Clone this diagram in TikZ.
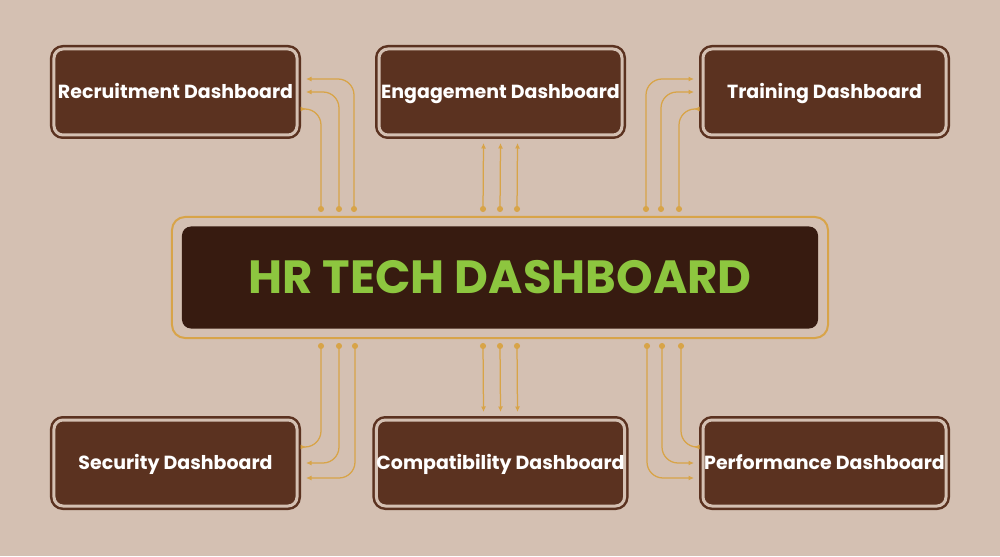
\documentclass[tikz,border=0pt]{standalone}
\usepackage{fontspec}
\setmainfont{Poppins}
\usetikzlibrary{calc,arrows.meta}

\definecolor{bgtan}{HTML}{D4C0B2}
\definecolor{boxbrown}{HTML}{5B3220}
\definecolor{hubdark}{HTML}{371B10}
\definecolor{titlegreen}{HTML}{8DC63F}
\definecolor{wiregold}{HTML}{D8A448}

\begin{document}
\begin{tikzpicture}[x=0.2mm, y=0.2mm, font=\bfseries,
    dashbox/.style={draw=boxbrown, fill=boxbrown, line width=0.5mm,
        double=bgtan, double distance=0.6mm, rounded corners=1.8mm,
        minimum width=48.6mm, minimum height=17.2mm, outer sep=0pt,
        inner xsep=0pt, text height=7.6pt, text depth=0pt,
        text=white, font=\bfseries\fontsize{10.8}{12}\selectfont},
    hubframe/.style={draw=wiregold, line width=0.4mm, rounded corners=2.6mm,
        minimum width=131.2mm, minimum height=24.2mm, outer sep=0pt},
    hubcore/.style={fill=hubdark, rounded corners=1.8mm,
        minimum width=127.2mm, minimum height=20.4mm,
        text height=18.6pt, text depth=0pt,
        text=titlegreen, font=\bfseries\fontsize{26.5}{27}\selectfont},
    wire/.style={draw=wiregold, line width=0.25mm, rounded corners=3.2mm,
        {Circle[length=1.2mm]}-{Latex[length=1.1mm, width=1mm]}}]

    % Background
    \fill[bgtan] (0,0) rectangle (1000,556);
    \useasboundingbox (0,0) rectangle (1000,556);

    % --- CENTRE ---
    \node[hubframe] (hub) at (500,278.5) {};
    \node[hubcore] (core) at (hub) {HR TECH DASHBOARD};

    % --- DASHBOARDS ---
    \node[dashbox] (rec) at (175.5,464) {Recruitment Dashboard};
    \node[dashbox] (eng) at (500.5,464) {Engagement Dashboard};
    \node[dashbox] (tra) at (824.5,464) {Training Dashboard};
    \node[dashbox] (sec) at (175.5,93) {Security Dashboard};
    \node[dashbox] (com) at (500.5,93) {Compatibility Dashboard};
    \node[dashbox] (per) at (824.5,93) {Performance Dashboard};

    % --- WIRES (top) ---
    \draw[wire] ($(hub.north west)+(149,5)$) |- ($(rec.east)+(9,-17)$);
    \draw[wire] ($(hub.north west)+(167,5)$) |- ($(rec.east)+(9,0)$);
    \draw[wire] ($(hub.north west)+(182,5)$) |- ($(rec.east)+(9,13)$);

    \draw[wire] ($(hub.north)+(-17,5)$) -- ($(eng.south)+(-17,-8)$);
    \draw[wire] ($(hub.north)+(0,5)$) -- ($(eng.south)+(0,-8)$);
    \draw[wire] ($(hub.north)+(17,5)$) -- ($(eng.south)+(17,-8)$);

    \draw[wire] ($(hub.north east)+(-149,5)$) |- ($(tra.west)+(-9,-17)$);
    \draw[wire] ($(hub.north east)+(-167,5)$) |- ($(tra.west)+(-9,0)$);
    \draw[wire] ($(hub.north east)+(-182,5)$) |- ($(tra.west)+(-9,13)$);

    % --- WIRES (bottom) ---
    \draw[wire] ($(hub.south west)+(149,-5)$) |- ($(sec.east)+(9,16)$);
    \draw[wire] ($(hub.south west)+(167,-5)$) |- ($(sec.east)+(9,0)$);
    \draw[wire] ($(hub.south west)+(183,-5)$) |- ($(sec.east)+(9,-15)$);

    \draw[wire] ($(hub.south)+(-17,-5)$) -- ($(com.north)+(-17,8)$);
    \draw[wire] ($(hub.south)+(0,-5)$) -- ($(com.north)+(0,8)$);
    \draw[wire] ($(hub.south)+(17,-5)$) -- ($(com.north)+(17,8)$);

    \draw[wire] ($(hub.south east)+(-147,-5)$) |- ($(per.west)+(-9,16)$);
    \draw[wire] ($(hub.south east)+(-166,-5)$) |- ($(per.west)+(-9,0)$);
    \draw[wire] ($(hub.south east)+(-181,-5)$) |- ($(per.west)+(-9,-15)$);
\end{tikzpicture}
\end{document}
